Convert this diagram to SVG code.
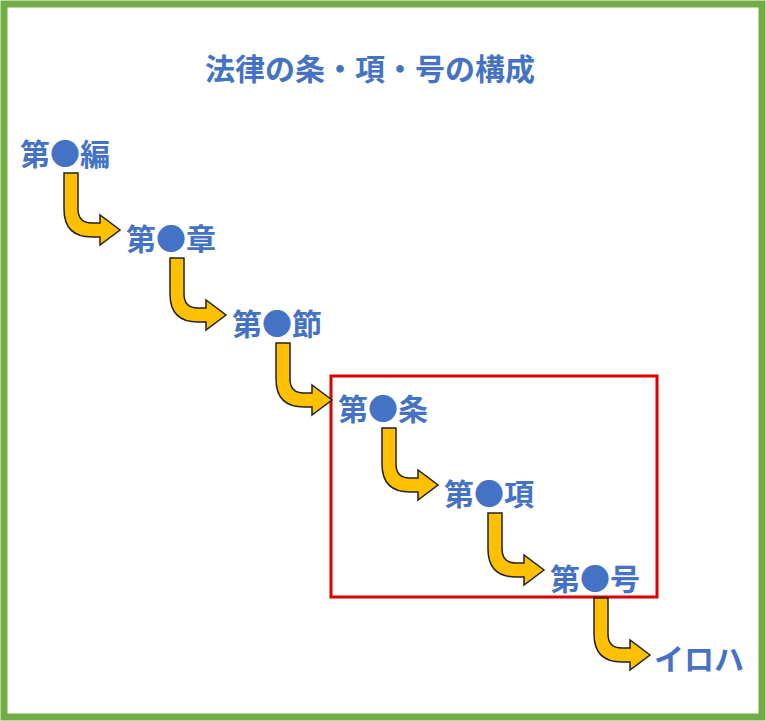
<svg xmlns="http://www.w3.org/2000/svg" width="766" height="721" viewBox="0 0 766 721">
<style>
.t{font-family:"Noto Sans CJK JP","Liberation Sans",sans-serif;fill:#4472C4;font-weight:bold;font-size:30px}
.a{fill:#FFC000;stroke:#222;stroke-width:1.5;stroke-linejoin:miter}
</style>
<defs>
<path id="arr" d="M0,0 H14 V36 Q14,50 28,50 H36 V42 L56,57 L36,72 V64 H28 Q0,64 0,36 Z"/>
</defs>
<rect x="0" y="0" width="766" height="721" fill="#fff"/>
<rect x="4" y="4" width="758" height="713" fill="none" stroke="#70AD47" stroke-width="7"/>
<text class="t" x="370" y="80" text-anchor="middle" font-size="28">法律の条・項・号の構成</text>
<rect x="331" y="376" width="326" height="221" fill="none" stroke="#E00000" stroke-width="3"/>
<g id="connectors">
<use href="#arr" class="a" x="64" y="173"/>
<use href="#arr" class="a" x="170" y="258"/>
<use href="#arr" class="a" x="276" y="343"/>
<use href="#arr" class="a" x="382" y="428"/>
<use href="#arr" class="a" x="488" y="513"/>
<use href="#arr" class="a" x="594" y="598"/>
</g>
<g id="n1"><text class="t" x="20" y="165">第●編</text></g>
<g id="n2"><text class="t" x="126" y="250">第●章</text></g>
<g id="n3"><text class="t" x="232" y="335">第●節</text></g>
<g id="n4"><text class="t" x="338" y="420">第●条</text></g>
<g id="n5"><text class="t" x="444" y="505">第●項</text></g>
<g id="n6"><text class="t" x="550" y="590">第●号</text></g>
<g id="n7"><text class="t" x="654" y="670" font-size="24" font-weight="normal">イロハ</text></g>
</svg>
